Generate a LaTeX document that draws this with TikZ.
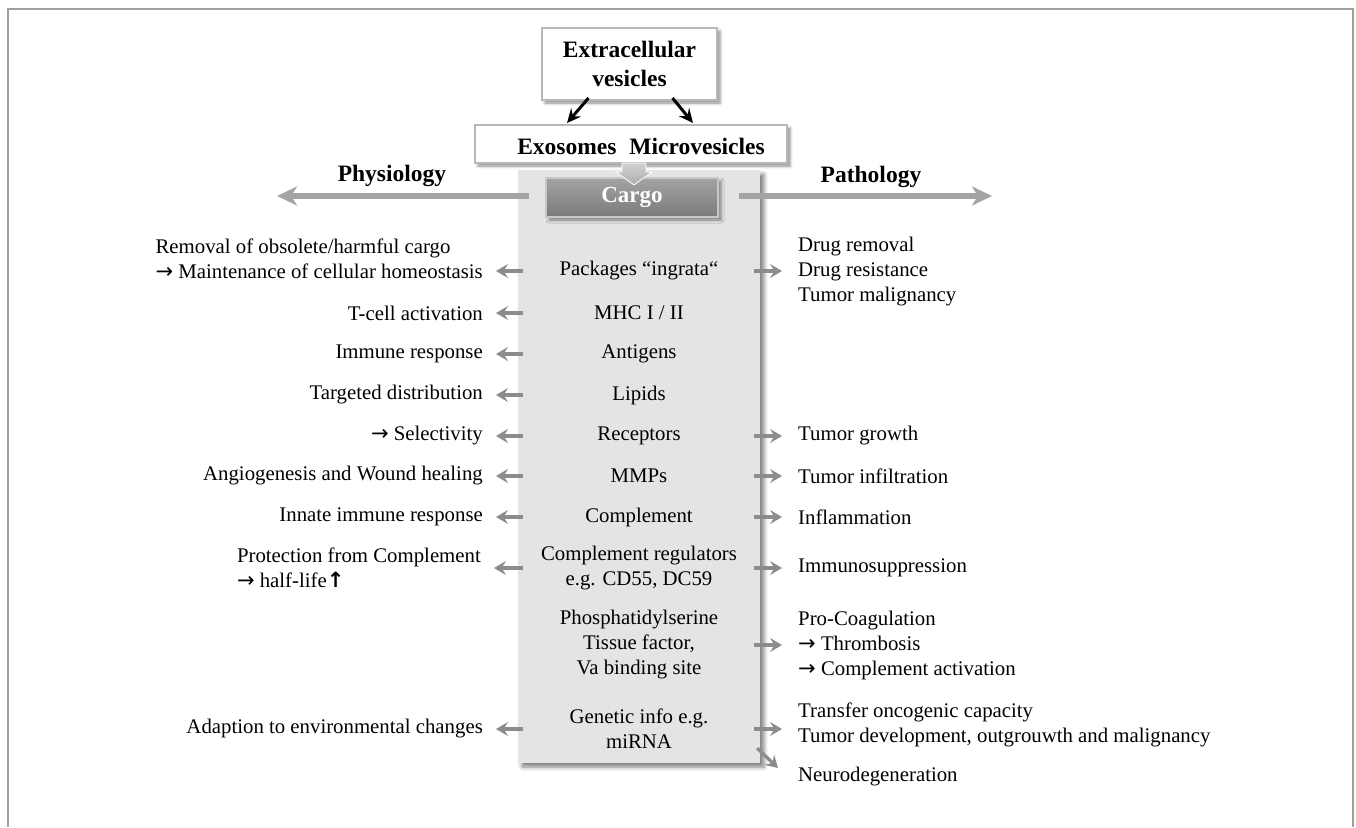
\documentclass[tikz,border=0pt]{standalone}
\usepackage{fontspec}
\setmainfont{Liberation Serif}
\newfontfamily\symfont{DejaVu Sans}
\usetikzlibrary{arrows.meta,shadows.blur,calc}

\definecolor{frameline}{HTML}{A0A0A0}
\definecolor{panelfill}{HTML}{E4E4E4}
\definecolor{boxline}{HTML}{B8B8B8}
\definecolor{arrowgray}{HTML}{8C8C8C}
\definecolor{bigarrow}{HTML}{A4A4A4}
\definecolor{blockarrow}{HTML}{BDBDBD}

% arrows used inside the texts
\newcommand{\ra}{{\symfont\fontsize{21}{25}\selectfont →}}
\newcommand{\upa}{{\symfont\bfseries\fontsize{21}{25}\selectfont ↑}}

\tikzset{
  txt/.style={font=\fontsize{20.8}{25}\selectfont, inner sep=0pt},
  ltxt/.style={txt, anchor=east, align=left},
  rtxt/.style={txt, anchor=west, align=left},
  ctxt/.style={txt, align=center},
  title/.style={font=\bfseries\fontsize{23.5}{28}\selectfont, inner sep=0pt},
  softshadow/.style={blur shadow={shadow xshift=3pt, shadow yshift=-3pt,
      shadow blur radius=3pt, shadow opacity=45}},
  wbox/.style={draw=boxline, line width=2pt, fill=white, softshadow},
  panelbox/.style={fill=panelfill, draw=none, inner sep=0pt,
      blur shadow={shadow xshift=4pt, shadow yshift=-4pt,
      shadow blur radius=4pt, shadow opacity=50}},
  cargobox/.style={top color=black!36, bottom color=black!52, draw=black!22,
      line width=1.5pt, text=white, font=\bfseries\fontsize{23}{28}\selectfont,
      softshadow},
  sarr/.style={arrowgray, line width=3.3pt,
      -{Stealth[length=12pt, width=14pt, inset=4.5pt]}},
  barr/.style={bigarrow, line width=5.5pt,
      -{Stealth[length=20pt, width=19pt, inset=6pt]}},
  karr/.style={black, line width=3pt,
      -{Stealth[length=14pt, width=13pt, inset=5pt]}},
}

\begin{document}
\begin{tikzpicture}[x=1pt, y=-1pt]
\useasboundingbox (0,0) rectangle (1356,827);

% outer frame (open at the bottom)
\draw[frameline, line width=2pt] (8,827) -- (8,9) -- (1353,9) -- (1353,827);

% central cargo panel
\node[panelbox, minimum width=242, minimum height=593] (panel) at (639,466.5) {};

% vesicle boxes
\node[wbox, minimum width=175, minimum height=72, align=center,
      font=\bfseries\fontsize{23.5}{29}\selectfont] (ext) at (629.5,64)
      {Extracellular\\vesicles};
\node[wbox, minimum width=312, minimum height=38] (exo) at (631,144) {};
\node[title] (exotxt) at (641,146) {Exosomes\hspace{0.55em}Microvesicles};

\draw[karr] ($(ext.south)+(-41,-3)$) -- ($(exo.north)+(-64,-1)$);
\draw[karr] ($(ext.south)+(43,-3)$) -- ($(exo.north)+(62,-1)$);

% cargo header
\node[cargobox, minimum width=172, minimum height=39] (cargo) at (632,197.5) {Cargo};

% block arrow from the vesicles down to the cargo
\shade[top color=black!18, bottom color=black!32, draw=white, line width=0.8pt]
  (622,163) -- (646,163) -- (646,172) -- (652,172) -- (634,185)
  -- (616,172) -- (622,172) -- cycle;

% physiology / pathology directions
\node[title] (phys) at (392,176) {Physiology};
\node[title] (patho) at (871,177) {Pathology};
\coordinate (physend) at (277,196);
\coordinate (pathend) at (992,196);
\draw[barr] ($(cargo.west)+(-16,-1.5)$) -- (physend);
\draw[barr] ($(cargo.east)+(20,-1.5)$) -- (pathend);

% cargo components
\node[ctxt] (c1) at (639,271) {Packages “ingrata“};
\node[ctxt] (c2) at (639,313) {MHC I / II};
\node[ctxt] (c3) at (639,354) {Antigens};
\node[ctxt] (c4) at (639,395) {Lipids};
\node[ctxt] (c5) at (639,436) {Receptors};
\node[ctxt] (c6) at (639,476) {MMPs};
\node[ctxt] (c7) at (639,517) {Complement};
\node[ctxt] (c8) at (639,568) {Complement regulators\\e.g. CD55, DC59};
\node[ctxt] (c9) at (639,645) {Phosphatidylserine\\Tissue factor,\\Va binding site};
\node[ctxt] (c10) at (639,729) {Genetic info e.g.\\miRNA};

% physiological effects
\node[ltxt] (l1) at (483,259) {Removal of obsolete/harmful cargo\\\ra\ Maintenance of cellular homeostasis};
\node[ltxt] (l2) at (483,313) {T-cell activation};
\node[ltxt] (l3) at (483,354) {Immune response};
\node[ltxt] (l4) at (483,395) {Targeted distribution};
\node[ltxt] (l5) at (483,436) {\ra\ Selectivity};
\node[ltxt] (l6) at (483,476) {Angiogenesis and Wound healing};
\node[ltxt] (l7) at (483,517) {Innate immune response};
\node[ltxt] (l8) at (481,568) {Protection from Complement\\\ra\ half-life\upa};
\node[ltxt] (l10) at (483,729) {Adaption to environmental changes};

% pathological effects
\node[rtxt] (r1) at (798,272) {Drug removal\\Drug resistance\\Tumor malignancy};
\node[rtxt] (r5) at (798,436) {Tumor growth};
\node[rtxt] (r6) at (798,476) {Tumor infiltration};
\node[rtxt] (r7) at (798,517) {Inflammation};
\node[rtxt] (r8) at (798,568) {Immunosuppression};
\node[rtxt] (r9) at (798,645) {Pro-Coagulation\\\ra\ Thrombosis\\\ra\ Complement activation};
\node[rtxt] (r10) at (798,724.5) {Transfer oncogenic capacity\\Tumor development, outgrouwth and malignancy};
\node[rtxt] (r11) at (798,777) {Neurodegeneration};

% arrows towards physiology
\foreach \c/\t in {c1/l1, c2/l2, c3/l3, c4/l4, c5/l5, c6/l6, c7/l7, c8/l8, c10/l10}
  \draw[sarr] ($(panel.west |- \c)+(5,0)$) -- ($(\t.east |- \c)+(13,0)$);

% arrows towards pathology
\foreach \c/\t in {c1/r1, c5/r5, c6/r6, c7/r7, c8/r8, c9/r9, c10/r10}
  \draw[sarr] ($(panel.east |- \c)+(-6,0)$) -- ($(\t.west |- \c)+(-16,0)$);
\draw[sarr] ($(panel.south east)+(-3,-15)$) -- ($(r11.west)+(-20,-9)$);

\end{tikzpicture}
\end{document}
